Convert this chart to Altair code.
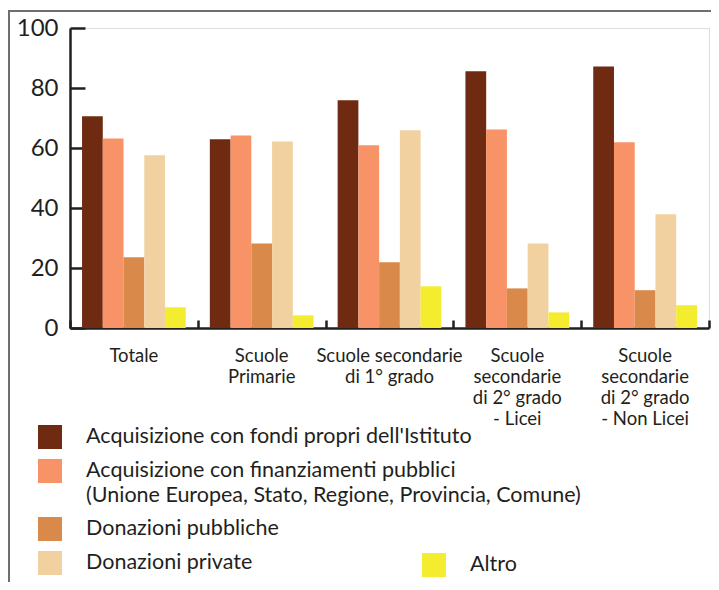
import altair as alt
import pandas as pd

categories = [
    "Totale",
    "Scuole|Primarie",
    "Scuole secondarie|di 1° grado",
    "Scuole|secondarie|di 2° grado|- Licei",
    "Scuole|secondarie|di 2° grado|- Non Licei",
]
series = [
    "Acquisizione con fondi propri dell'Istituto",
    "Acquisizione con finanziamenti pubblici|(Unione Europea, Stato, Regione, Provincia, Comune)",
    "Donazioni pubbliche",
    "Donazioni private",
    "Altro",
]
colors = ["#6E2B12", "#F79366", "#D9894A", "#F0D19F", "#F4EC2F"]

fondi_propri = [70.6, 62.9, 75.9, 85.6, 87.2]
finanz_pubblici = [63.2, 64.2, 60.9, 66.2, 61.9]
donaz_pubbliche = [23.6, 28.2, 21.9, 13.2, 12.6]
donaz_private = [57.6, 62.2, 65.9, 28.2, 37.9]
altro = [6.9, 4.2, 13.9, 5.2, 7.6]

y_ticks = [0, 20, 40, 60, 80, 100]

values = [fondi_propri, finanz_pubblici, donaz_pubbliche, donaz_private, altro]
rows = []
for ci, cat in enumerate(categories):
    for si, s in enumerate(series):
        rows.append({"categoria": cat, "serie": s, "valore": values[si][ci]})
df = pd.DataFrame(rows)

W, H = 639, 300
INK = "#231F20"
FONT = "Lato"
LEG_FS = 21.5

x_scale = alt.Scale(domain=categories, paddingInner=0, paddingOuter=0)
xo_scale = alt.Scale(domain=series, paddingInner=0, paddingOuter=0.58)
y_scale = alt.Scale(domain=[0, 100], nice=False)

base = alt.Chart(df)

main = base.mark_bar().encode(
    x=alt.X("categoria:N", scale=x_scale, sort=categories, title=None,
            axis=alt.Axis(orient="bottom", domain=True, domainColor=INK, domainWidth=2.5,
                          ticks=False, labelAngle=0, labelPadding=18, labelFontSize=18.5,
                          labelLineHeight=21, labelColor=INK, labelFont=FONT,
                          labelBaseline="top", labelExpr="split(datum.label, '|')",
                          labelLimit=300, grid=False)),
    xOffset=alt.XOffset("serie:N", scale=xo_scale, sort=series),
    y=alt.Y("valore:Q", scale=y_scale, title=None,
            axis=alt.Axis(orient="left", values=y_ticks, domain=True, domainColor=INK,
                          domainWidth=2.5, ticks=False, labelPadding=12, labelFontSize=24,
                          labelColor=INK, labelFont=FONT, grid=False)),
    color=alt.Color("serie:N", sort=series[:4],
                    scale=alt.Scale(domain=series[:4], range=colors[:4]),
                    legend=alt.Legend(orient="none", legendX=-32, legendY=397, title=None,
                                      direction="vertical", symbolType="square",
                                      symbolSize=576, symbolStrokeWidth=0, symbolOpacity=1,
                                      labelFontSize=LEG_FS, labelFont=FONT, labelColor=INK,
                                      labelOffset=24, labelLimit=700, rowPadding=10,
                                      padding=0, labelExpr="split(datum.label, '|')")),
).transform_filter(alt.FieldOneOfPredicate(field="serie", oneOf=series[:4]))

altro_layer = base.mark_bar().encode(
    x=alt.X("categoria:N", scale=x_scale, sort=categories, title=None,
            axis=alt.Axis(orient="top", offset=-H, domain=False, labels=False,
                          ticks=True, tickSize=8, tickWidth=2.5, tickColor=INK,
                          tickBand="extent", grid=False)),
    xOffset=alt.XOffset("serie:N", scale=xo_scale, sort=series),
    y=alt.Y("valore:Q", scale=y_scale, title=None,
            axis=alt.Axis(orient="right", offset=-W, values=y_ticks, domain=False,
                          labels=False, ticks=True, tickSize=15, tickWidth=2.5,
                          tickColor=INK, grid=False)),
    color=alt.Color("serie:N",
                    scale=alt.Scale(domain=series[4:], range=colors[4:]),
                    legend=alt.Legend(orient="none", legendX=352, legendY=525, title=None,
                                      symbolType="square", symbolSize=576,
                                      symbolStrokeWidth=0, symbolOpacity=1,
                                      labelFontSize=LEG_FS, labelFont=FONT, labelColor=INK,
                                      labelOffset=24, padding=0)),
).transform_filter(alt.FieldEqualPredicate(field="serie", equal=series[4]))

frame_df = pd.DataFrame({"k": [0]})
frame_v = alt.Chart(frame_df).mark_rule(color="#6E6E6E", strokeWidth=2).encode(
    x=alt.value(-61), y=alt.value(-17), y2=alt.value(600))
frame_h = alt.Chart(frame_df).mark_rule(color="#6E6E6E", strokeWidth=2).encode(
    x=alt.value(-62), x2=alt.value(700), y=alt.value(-17))

chart = alt.layer(main, altro_layer, frame_v, frame_h).resolve_scale(
    color="independent"
).resolve_axis(
    x="independent", y="independent"
).properties(
    width=W, height=H,
    autosize=alt.AutoSizeParams(type="none"),
    padding={"left": 62, "top": 20, "right": 2, "bottom": 254},
).configure_view(stroke=None).configure(
    font=FONT, style={"guide-label": {"lineHeight": 25}}
)

chart.save("out.html", embed_options={"renderer": "svg", "actions": False})
